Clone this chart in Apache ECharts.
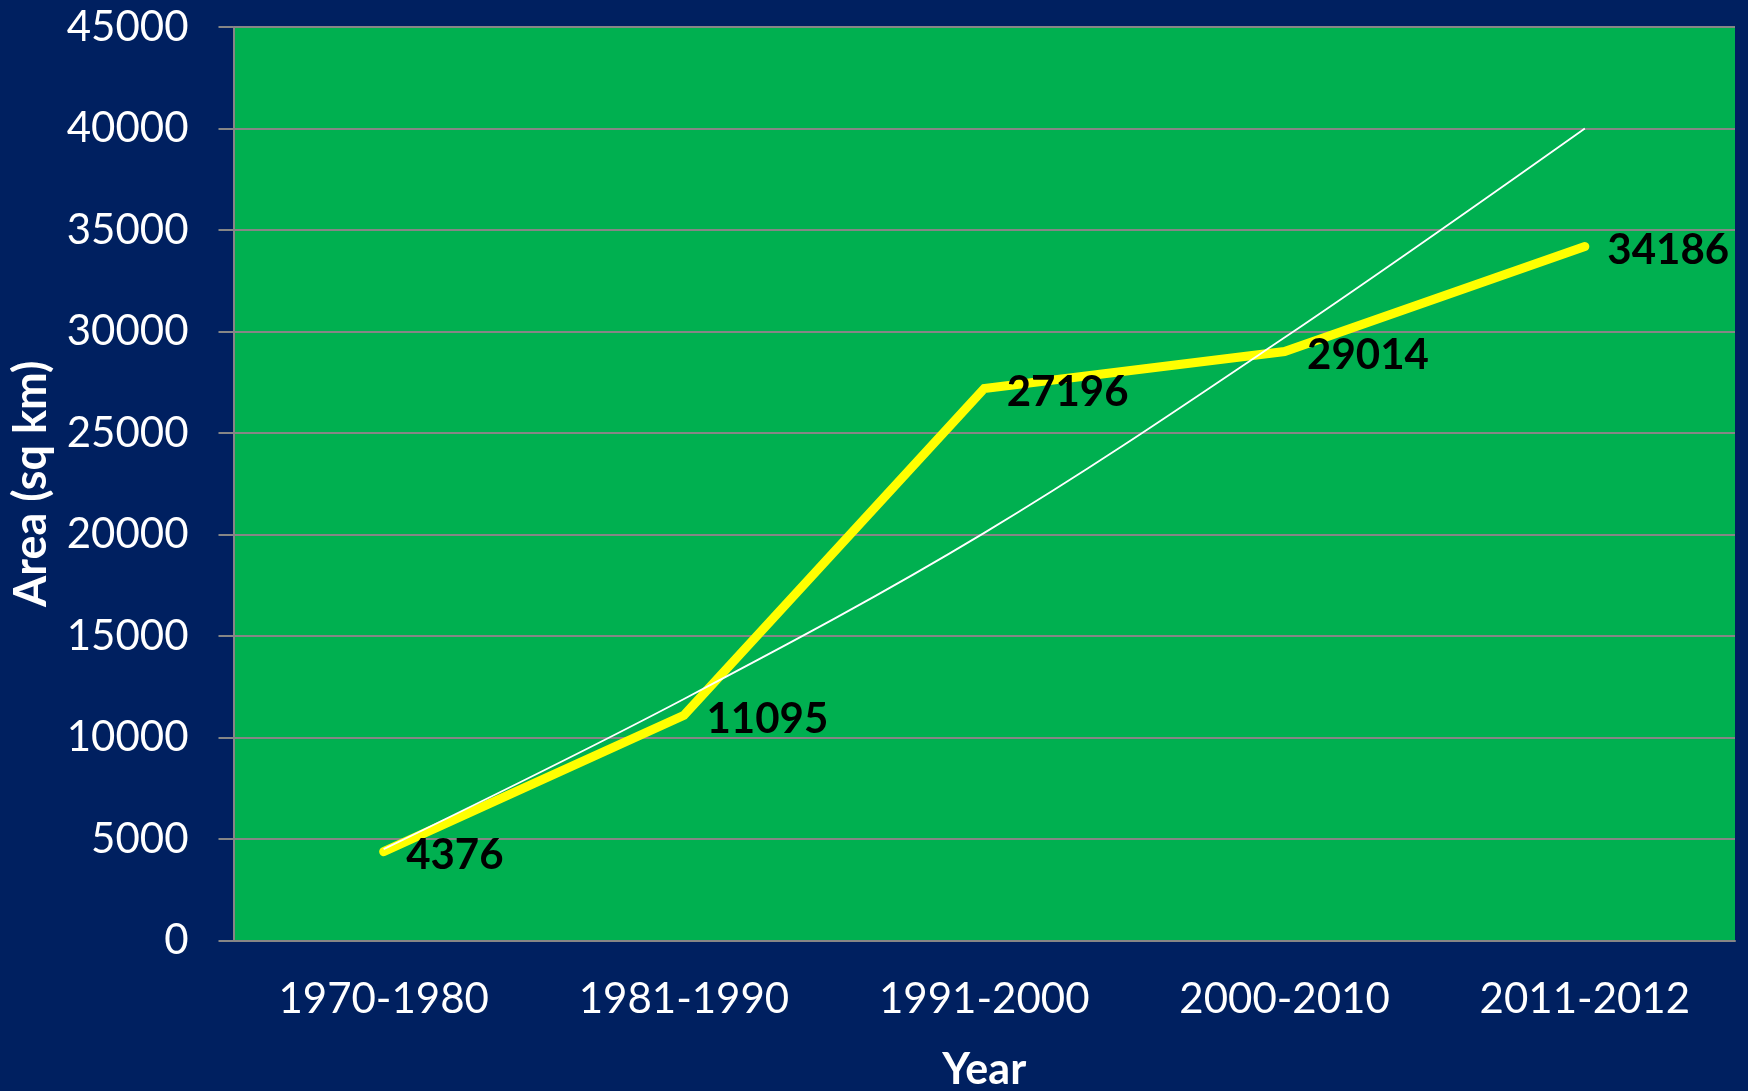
<!DOCTYPE html>
<html>
<head>
<meta charset="utf-8">
<script src="https://cdn.jsdelivr.net/npm/echarts@6/dist/echarts.min.js"></script>
<style>
html,body{margin:0;padding:0;background:#002060;}
#chart{width:1748px;height:1091px;}
</style>
</head>
<body>
<div id="chart"></div>
<script>
// Data
const categories = ['1970-1980', '1981-1990', '1991-2000', '2000-2010', '2011-2012'];
const areaValues = [4376, 11095, 27196, 29014, 34186];
// trend line at each category
const trendValues = [4500, 11900, 20080, 29700, 40000];
const yTicks = { min: 0, max: 45000, interval: 5000 };

const FONT = 'Lato, "Open Sans", sans-serif';

const chart = echarts.init(document.getElementById('chart'), null, { renderer: 'canvas' });
chart.setOption({
  backgroundColor: '#002060',
  animation: false,
  grid: {
    left: 233.5, right: 13, top: 27, bottom: 150.5,
    show: true, backgroundColor: '#00B050', borderWidth: 0,
    containLabel: false, outerBoundsMode: 'none'
  },
  xAxis: {
    type: 'category',
    data: categories,
    boundaryGap: true,
    name: 'Year',
    nameLocation: 'middle',
    nameGap: 108,
    nameTextStyle: { color: '#FFFFFF', fontFamily: FONT, fontWeight: 'bold', fontSize: 43 },
    axisLine: { show: true, lineStyle: { color: '#868686', width: 2 } },
    axisTick: { show: false },
    axisLabel: { color: '#FFFFFF', fontFamily: FONT, fontSize: 42, margin: 38 },
    splitLine: { show: false }
  },
  yAxis: {
    type: 'value',
    min: yTicks.min, max: yTicks.max, interval: yTicks.interval,
    name: 'Area (sq km)',
    nameLocation: 'middle',
    nameGap: 180,
    nameRotate: 90,
    nameTextStyle: { color: '#FFFFFF', fontFamily: FONT, fontWeight: 'bold', fontSize: 45 },
    axisLine: { show: true, lineStyle: { color: '#868686', width: 2 } },
    axisTick: { show: true, inside: false, length: 15, lineStyle: { color: '#868686', width: 2 } },
    axisLabel: {
      color: '#FFFFFF', fontFamily: FONT, fontSize: 42, margin: 45,
      formatter: function (v) { return String(v); }
    },
    splitLine: { show: true, lineStyle: { color: '#868686', width: 2 } }
  },
  series: [
    {
      name: 'Area',
      type: 'line',
      data: areaValues,
      symbol: 'circle',
      symbolSize: 1,
      itemStyle: { color: '#FFFF00' },
      lineStyle: { color: '#FFFF00', width: 9, cap: 'round', join: 'miter' },
      label: {
        show: true, position: 'right', distance: 22, offset: [0, 4],
        color: '#000000', fontFamily: FONT, fontWeight: 'bold', fontSize: 42
      },
      z: 2
    },
    {
      name: 'Trend',
      type: 'line',
      data: trendValues,
      smooth: 0.35,
      symbol: 'none',
      lineStyle: { color: '#FFFFFF', width: 1.8 },
      z: 3,
      silent: true
    }
  ]
});
</script>
</body>
</html>
